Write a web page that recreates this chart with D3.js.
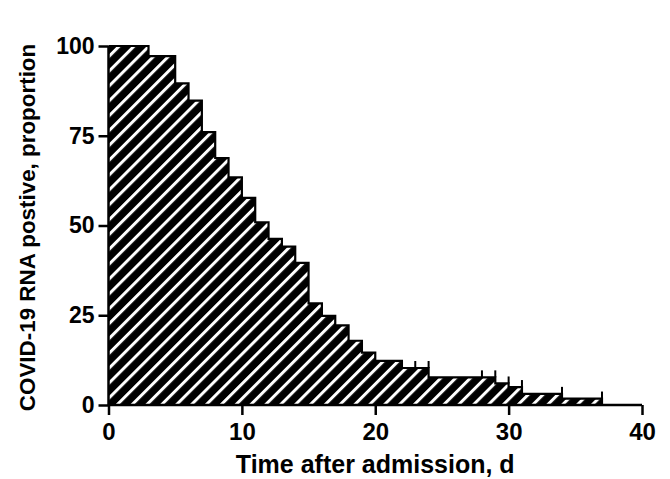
<!DOCTYPE html>
<html>
<head>
<meta charset="utf-8">
<script src="https://cdn.jsdelivr.net/npm/d3@7"></script>
<style>
  html, body { margin: 0; padding: 0; background: #fff; }
  svg { display: block; }
  text { font-family: "Liberation Sans", Arial, sans-serif; font-weight: bold; fill: #000; }
</style>
</head>
<body>
<script>
// Data (Kaplan-Meier style step curve)
const days       = [0, 3, 5, 6, 7, 8, 9, 10, 11, 12, 13, 14, 15, 16, 17, 18, 19, 20, 22, 24, 29, 30, 31, 34, 37];
const proportion = [100, 97.2, 89.6, 84.8, 76, 68.8, 63.4, 57.7, 50.9, 46.3, 44.1, 39.6, 28.3, 24.8, 22.2, 17.9, 14.6, 12.3, 10.3, 7.7, 6.0, 5.0, 3.1, 1.8, 0];
const censoredDays = [23, 24, 28, 29, 30, 31, 34, 37];
const xTicks = [0, 10, 20, 30, 40];
const yTicks = [0, 25, 50, 75, 100];
const xTitle = "Time after admission, d";
const yTitle = "COVID-19 RNA postive, proportion";

const W = 670, H = 479;
const svg = d3.select("body").append("svg").attr("width", W).attr("height", H);

const x = d3.scaleLinear().domain([0, 40]).range([108.5, 642]);
const y = d3.scaleLinear().domain([0, 100]).range([405, 46]);

const pts = days.map((d, i) => ({ d, p: proportion[i] }));

// hatch pattern
const defs = svg.append("defs");
const pat = defs.append("pattern")
  .attr("id", "hatch")
  .attr("patternUnits", "userSpaceOnUse")
  .attr("width", 10.5).attr("height", 10.5)
  .attr("patternTransform", "rotate(45)");
pat.append("rect").attr("width", 10.5).attr("height", 10.5).attr("fill", "#000");
pat.append("rect").attr("x", 0).attr("width", 3).attr("height", 10.5).attr("fill", "#fff");

const area = d3.area()
  .curve(d3.curveStepAfter)
  .x(d => x(d.d))
  .y0(y(0))
  .y1(d => y(d.p));

svg.append("path").datum(pts)
  .attr("d", area)
  .attr("fill", "url(#hatch)");

const line = d3.line()
  .curve(d3.curveStepAfter)
  .x(d => x(d.d))
  .y(d => y(d.p));

svg.append("path").datum(pts)
  .attr("d", line)
  .attr("fill", "none")
  .attr("stroke", "#000")
  .attr("stroke-width", 2.2);

// censor marks
function levelBefore(t) {
  let v = proportion[0];
  for (let i = 0; i < days.length; i++) {
    if (days[i] < t) v = proportion[i];
  }
  return v;
}
svg.append("g").selectAll("line").data(censoredDays).join("line")
  .attr("x1", d => x(d)).attr("x2", d => x(d))
  .attr("y1", d => y(levelBefore(d)))
  .attr("y2", d => y(levelBefore(d)) - 7)
  .attr("stroke", "#000").attr("stroke-width", 2);

// axes
const xAxis = d3.axisBottom(x).tickValues(xTicks).tickSize(10).tickPadding(8).tickFormat(d3.format("d"));
const yAxis = d3.axisLeft(y).tickValues(yTicks).tickSize(10).tickPadding(4).tickFormat(d3.format("d"));

const gx = svg.append("g").attr("transform", `translate(0,${y(0)})`).call(xAxis);
const gy = svg.append("g").attr("transform", `translate(${x(0)},0)`).call(yAxis);

[gx, gy].forEach(g => {
  g.select(".domain").attr("stroke", "#000").attr("stroke-width", 2.5);
  g.selectAll(".tick line").attr("stroke", "#000").attr("stroke-width", 2.5);
  g.selectAll("text").attr("font-family", "Liberation Sans, Arial, sans-serif").attr("font-weight", "bold").attr("fill", "#000");
});
gx.select(".domain").attr("d", `M${x(0)},0H${x(40)}`);
gy.select(".domain").attr("d", `M0,${y(100)}V${y(0)}`);
gx.selectAll("text").attr("font-size", 24);
gy.selectAll("text").attr("font-size", 23);

// axis titles
svg.append("text")
  .attr("x", (x(0) + x(40)) / 2)
  .attr("y", 473)
  .attr("text-anchor", "middle")
  .attr("font-size", 25)
  .text(xTitle);

svg.append("text")
  .attr("transform", `translate(35,${(y(0) + y(100)) / 2 + 2}) rotate(-90)`)
  .attr("text-anchor", "middle")
  .attr("font-size", 22.4)
  .text(yTitle);
</script>
</body>
</html>
